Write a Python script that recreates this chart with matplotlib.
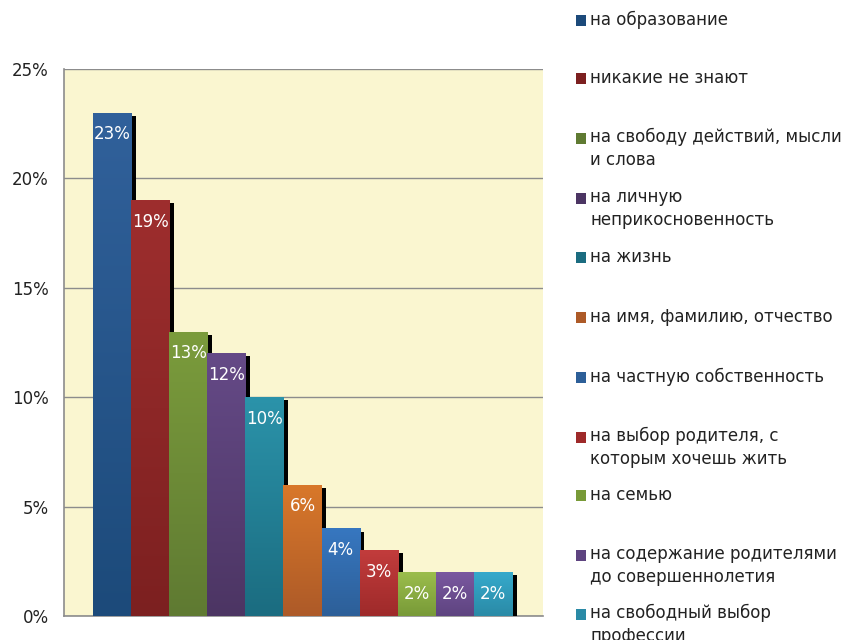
import numpy as np
import matplotlib
matplotlib.use("Agg")
import matplotlib.pyplot as plt
from matplotlib.colors import LinearSegmentedColormap
from matplotlib.patches import Rectangle
import matplotlib.patheffects as pe

# data
categories = [
    "на образование",
    "никакие не знают",
    "на свободу действий, мысли\nи слова",
    "на личную\nнеприкосновенность",
    "на жизнь",
    "на имя, фамилию, отчество",
    "на частную собственность",
    "на выбор родителя, с\nкоторым хочешь жить",
    "на семью",
    "на содержание родителями\nдо совершеннолетия",
    "на свободный выбор\nпрофессии",
]
values = [23, 19, 13, 12, 10, 6, 4, 3, 2, 2, 2]
top_colors = ["#31619b", "#9e2e2e", "#7b9c3c", "#654a87", "#2b93aa", "#d9782a",
              "#3777c0", "#c23c3c", "#9bbd4c", "#7a58a0", "#36aacc"]
bottom_colors = ["#1c4a7a", "#7c2020", "#5f7a32", "#4c3563", "#1b6c80", "#ad5a28",
                 "#2d5f98", "#9e2a2a", "#789a38", "#5e4480", "#2a8aa6"]
yticks = [0, 5, 10, 15, 20, 25]

plt.rcParams['font.family'] = ['DejaVu Sans']

fig = plt.figure(figsize=(8.48, 6.4), dpi=100)
ax = fig.add_axes([64/848, 24/640, (543-64)/848, (616-69)/640])
ax.set_facecolor("#faf6d0")

x = np.arange(len(values))
bars = ax.bar(x, values, width=1.0, color=bottom_colors, zorder=3)

#   black drop shadow to the lower right of each bar
for b in bars:
    b.set_path_effects([pe.SimplePatchShadow(offset=(3.4, -2.2), shadow_rgbFace="black", alpha=1.0),
                        pe.Normal()])

#   vertical gradient clipped to each bar
grad = np.linspace(1, 0, 256).reshape(-1, 1)
for b, c1, c0 in zip(bars, top_colors, bottom_colors):
    cmap = LinearSegmentedColormap.from_list("g", [c0, c1])
    x0, h = b.get_x(), b.get_height()
    im = ax.imshow(grad, extent=[x0, x0 + b.get_width(), 0, h], aspect="auto",
                   cmap=cmap, vmin=0, vmax=1, zorder=4, interpolation="bilinear")
    im.set_clip_path(b)

for xi, v in zip(x, values):
    ax.annotate("{}%".format(v), (xi, v), xytext=(0, -15.5), textcoords="offset points",
                ha="center", va="center", color="white", fontsize=12, zorder=6)

ax.set_xlim(-0.5 - 0.76, len(values) - 0.5 + 0.81)
ax.set_ylim(0, 25)
ax.set_yticks(yticks)
ax.set_yticklabels(["{}%".format(t) for t in yticks], fontsize=12, color="#222222")
ax.set_xticks([])
ax.tick_params(axis="y", length=0, pad=11)
ax.grid(axis="y", color="#8c8c8c", linewidth=1.0, zorder=1)
ax.set_axisbelow(True)
for side in ["top", "right"]:
    ax.spines[side].set_visible(False)
for side in ["left", "bottom"]:
    ax.spines[side].set_color("#8c8c8c")
    ax.spines[side].set_linewidth(1.2)

#   legend drawn by hand so that the swatch lines up with the first text line
row_y = [20, 78, 138, 198, 257, 317, 377, 437, 495, 555, 614]
for lab, c1, c0, ry in zip(categories, top_colors, bottom_colors, row_y):
    fig.patches.append(Rectangle((576/848, 1 - (ry + 6)/640), 10/848, 11/640,
                                 transform=fig.transFigure, facecolor=c0, edgecolor="none"))
    if "\n" in lab:
        fig.text(590/848, 1 - (ry - 10)/640, lab, fontsize=12, color="#222222",
                 ha="left", va="top", linespacing=1.35)
    else:
        fig.text(590/848, 1 - ry/640, lab, fontsize=12, color="#222222",
                 ha="left", va="center")

fig.savefig("out.png", dpi=100, facecolor="white")
